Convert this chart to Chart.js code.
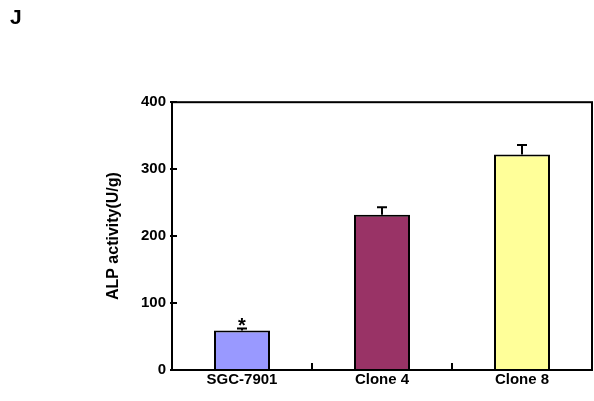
<!DOCTYPE html>
<html>
<head>
<meta charset="utf-8">
<script src="https://cdn.jsdelivr.net/npm/chart.js@4.4.0/dist/chart.umd.min.js"></script>
<style>
  html, body { margin: 0; padding: 0; background: #fff; }
  #wrap { width: 594px; height: 401px; }
</style>
</head>
<body>
<div id="wrap"><canvas id="chart" width="594" height="401"></canvas></div>
<script>
// dados do grafico
const grupos = ['SGC-7901', 'Clone 4', 'Clone 8'];
const atividade = [59, 232, 322];
const erros = [3, 11, 14];
const marcas = ['*', '', ''];
const cores = ['#9999FF', '#993366', '#FFFF99'];
const yTicks = [0, 100, 200, 300, 400];

const fonte = '"Liberation Sans", Arial, sans-serif';

// barras de erro, asterisco, moldura e ticks para dentro
const extras = {
  id: 'extras',
  afterDatasetsDraw(chart) {
    const ctx = chart.ctx;
    const y = chart.scales.y;
    const meta = chart.getDatasetMeta(0);
    ctx.save();
    ctx.strokeStyle = '#000';
    ctx.lineWidth = 2;
    meta.data.forEach((bar, i) => {
      let top = y.getPixelForValue(atividade[i]);
      let cap = y.getPixelForValue(atividade[i] + erros[i]);
      ctx.beginPath();
      ctx.moveTo(bar.x, top);
      ctx.lineTo(bar.x, cap);
      ctx.moveTo(bar.x - 5, cap);
      ctx.lineTo(bar.x + 5, cap);
      ctx.stroke();
      if (marcas[i]) {
        ctx.fillStyle = '#000';
        ctx.font = 'bold 20px ' + fonte;
        ctx.textAlign = 'center';
        ctx.textBaseline = 'alphabetic';
        ctx.fillText(marcas[i], bar.x, cap + 4);
      }
    });
    ctx.restore();
  },
  afterDraw(chart) {
    const ctx = chart.ctx;
    const a = chart.chartArea;
    const x = chart.scales.x;
    const y = chart.scales.y;
    ctx.save();
    ctx.strokeStyle = '#000';
    ctx.lineWidth = 2;
    ctx.strokeRect(a.left, a.top, a.right - a.left, a.bottom - a.top);
    ctx.beginPath();
    yTicks.forEach(v => {
      let py = Math.round(y.getPixelForValue(v));
      ctx.moveTo(a.left - 2, py);
      ctx.lineTo(a.left + 5, py);
    });
    for (let i = 0; i < grupos.length - 1; i++) {
      let px = Math.round((x.getPixelForValue(i) + x.getPixelForValue(i + 1)) / 2);
      ctx.moveTo(px, a.bottom);
      ctx.lineTo(px, a.bottom - 7);
    }
    ctx.stroke();
    ctx.restore();
  }
};

let ctx = document.getElementById('chart').getContext('2d');
let grafico = new Chart(ctx, {
  type: 'bar',
  data: {
    labels: grupos,
    datasets: [{
      data: atividade,
      backgroundColor: cores,
      borderColor: '#000',
      borderWidth: 2,
      barPercentage: 0.4,
      categoryPercentage: 1
    }]
  },
  options: {
    responsive: false,
    animation: false,
    layout: { padding: { left: 10, right: 2, top: 0, bottom: 0 } },
    plugins: {
      legend: { display: false },
      tooltip: { enabled: false },
      title: {
        display: true,
        text: 'J',
        align: 'start',
        color: '#000',
        font: { family: fonte, size: 21, weight: 'bold', lineHeight: 1.2 },
        padding: { top: 6, bottom: 71 }
      }
    },
    scales: {
      x: {
        grid: { display: false, drawTicks: false },
        border: { display: false },
        ticks: { color: '#000', padding: 1, font: { family: fonte, size: 15, weight: 'bold' } },
        afterFit(scale) { scale.height = 31; }
      },
      y: {
        min: 0,
        max: 400,
        grid: { display: false, drawTicks: false },
        border: { display: false },
        ticks: { stepSize: 100, color: '#000', padding: 6, font: { family: fonte, size: 15, weight: 'bold' } },
        title: {
          display: true,
          text: 'ALP activity(U/g)',
          color: '#000',
          padding: { top: 94, bottom: 0 },
          font: { family: fonte, size: 16, weight: 'bold' }
        },
        afterFit(scale) { scale.width = 162; }
      }
    }
  },
  plugins: [extras]
});
</script>
</body>
</html>
